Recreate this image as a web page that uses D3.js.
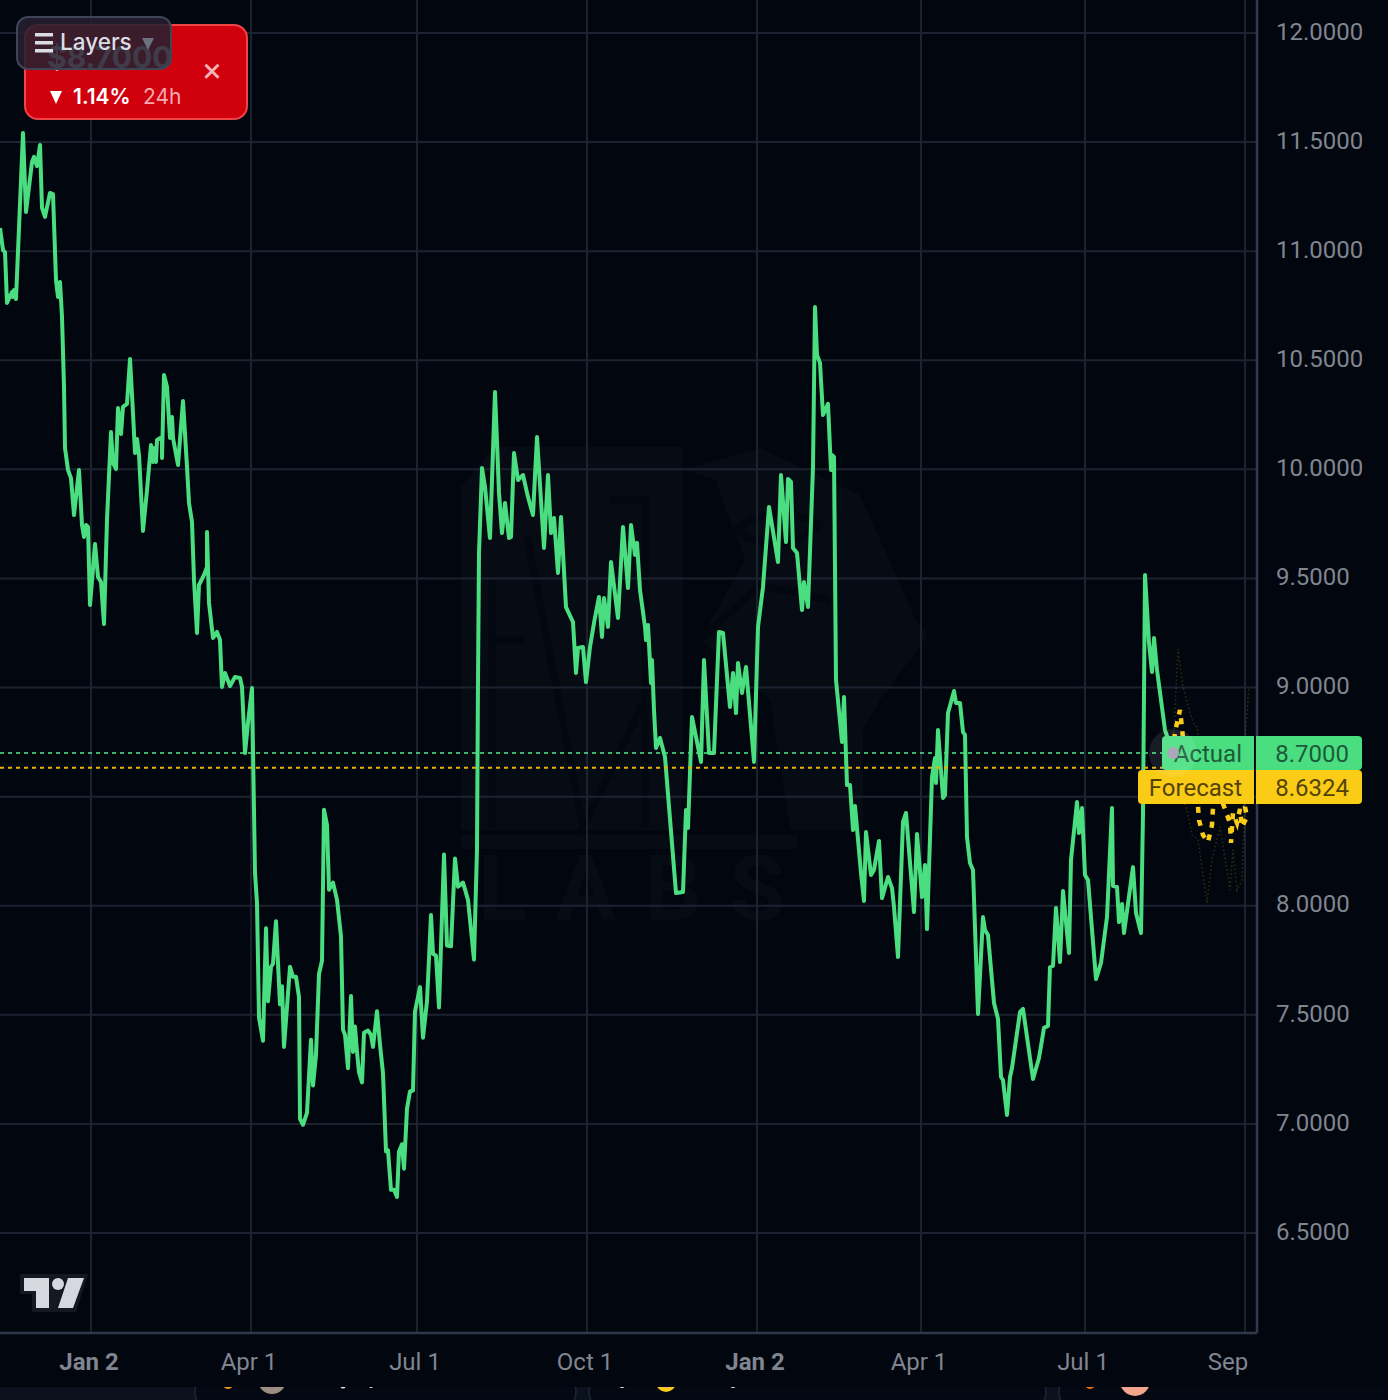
<!DOCTYPE html>
<html>
<head>
<meta charset="utf-8">
<script src="https://cdn.jsdelivr.net/npm/d3@7"></script>
<style>
  html, body { margin: 0; padding: 0; background: #02060f; }
  svg { display: block; }
  text { font-family: Roboto, sans-serif; }
</style>
</head>
<body>
<div id="figure"></div>
<script>
// [bar index, price]
var actualSeries = [
  [0,11.106],[1.5,11.005],[2.5,10.996],[3.5,10.763],[6,10.813],[6.5,10.79],[7,10.822],[8,10.781],[11.5,11.542],[13,11.18],
  [16,11.409],[17,11.432],[18.5,11.39],[20,11.487],[21,11.198],[22.5,11.157],[25,11.267],[26.5,11.262],[28,10.868],[29,10.79],
  [30,10.859],[31,10.698],[32,10.378],[32.5,10.098],[34,9.997],[35.5,9.96],[37,9.791],[39.5,9.997],[41,9.745],[42,9.69],
  [43,9.745],[44,9.736],[45,9.378],[47.5,9.658],[49,9.507],[50.5,9.484],[52,9.291],[53.5,9.768],[55.5,10.171],[56.5,10.029],
  [58,10.002],[59,10.281],[60.5,10.162],[61.5,10.286],[63.5,10.3],[65,10.506],[66.5,10.258],[67.5,10.075],[68.5,10.139],[69.5,10.066],
  [71.5,9.718],[73.5,9.905],[75.5,10.112],[76.5,10.034],[77,10.098],[78,10.034],[78.5,10.135],[81,10.148],[81,10.052],[82,10.433],
  [83.5,10.378],[85,10.144],[86,10.24],[86.5,10.144],[89,10.02],[91.5,10.313],[93.5,10.011],[94.5,9.846],[96,9.759],[97,9.493],
  [98.5,9.25],[99.5,9.47],[102,9.516],[103.5,9.553],[103.5,9.713],[104.5,9.388],[106.5,9.227],[108.5,9.255],[110,9.218],[111,9.003],
  [112.5,9.067],[115,9.007],[117.5,9.048],[120,9.044],[121,9.003],[122.5,8.7],[124,8.838],[126,8.998],[127.5,8.152],[128.5,8.012],
  [129.5,7.487],[131.5,7.381],[133,7.897],[134,7.562],[135.5,7.72],[136.5,7.734],[138,7.929],[139.5,7.641],[140,7.548],[141,7.631],
  [142,7.353],[145,7.72],[146.5,7.674],[148,7.674],[149.5,7.581],[150,7.023],[151.5,6.996],[153.5,7.052],[155.5,7.386],[156.5,7.176],
  [158,7.316],[159.5,7.687],[161,7.748],[162,8.44],[163.5,8.37],[164.5,8.073],[166.5,8.106],[168.5,8.027],[170.5,7.859],[171.5,7.432],
  [172.5,7.408],[174,7.255],[175.5,7.586],[176.5,7.33],[177.5,7.446],[178.5,7.33],[179.5,7.237],[181,7.19],[182,7.418],[184,7.428],
  [185.5,7.408],[186.5,7.353],[188.5,7.516],[190,7.363],[191.5,7.232],[193,6.874],[194,6.879],[195.5,6.698],[197,6.698],[198.5,6.665],
  [199.5,6.874],[201,6.907],[202,6.795],[203.5,7.07],[205,7.149],[206.5,7.153],[207.5,7.516],[210,7.627],[211.5,7.395],[213.5,7.562],
  [215.5,7.957],[216.5,7.78],[218,7.771],[219.5,7.534],[222,8.235],[223.5,7.818],[225.5,7.814],[227.5,8.217],[229,8.087],[231.5,8.106],
  [234,8.027],[237,7.753],[238.5,8.259],[239,9.035],[239.5,9.617],[241,10.006],[242.5,9.919],[245,9.685],[247.5,10.355],[249.5,9.892],
  [251,9.708],[252.5,9.846],[254.5,9.685],[255.5,9.69],[257,10.075],[259,9.951],[261.5,9.974],[264,9.873],[266.5,9.791],[268.5,10.148],
  [272,9.64],[274,9.974],[275.5,9.708],[277,9.777],[279,9.525],[280.5,9.782],[283,9.369],[286.5,9.3],[288,9.067],[289,9.181],
  [291.5,9.186],[293,9.025],[295,9.186],[297,9.296],[299.5,9.415],[301,9.232],[302,9.41],[304,9.278],[305.5,9.575],[309,9.319],
  [311.5,9.736],[314,9.456],[315.5,9.745],[317.5,9.608],[318.5,9.663],[320,9.447],[322.5,9.278],[323,9.218],[324,9.287],[325.5,9.021],
  [326,9.126],[327,8.897],[328,8.723],[330,8.769],[332.5,8.682],[338,8.058],[341.5,8.063],[343,8.439],[344,8.356],[346,8.865],
  [350.5,8.659],[352,9.126],[354.5,8.7],[357,8.7],[359.5,9.255],[361.5,9.25],[365,8.911],[366.5,9.067],[368,8.883],[369,9.113],
  [371,8.975],[373,9.094],[377,8.659],[379,9.278],[381.5,9.461],[384.5,9.828],[389,9.575],[390.5,9.974],[393,9.667],[394,9.956],
  [395.5,9.942],[396.5,9.64],[398.5,9.617],[401,9.355],[402,9.484],[404,9.369],[406.5,10.011],[407.5,10.744],[408.5,10.524],[410,10.488],
  [411.5,10.249],[414,10.3],[415.5,9.997],[416,10.066],[417,10.057],[418,9.035],[421,8.75],[422,8.957],[423.5,8.553],[425,8.553],
  [426.5,8.347],[427.5,8.457],[430.5,8.15],[432,8.022],[433,8.338],[435.5,8.141],[437,8.164],[439.5,8.297],[441,8.035],[444,8.132],
  [446,8.081],[447,7.994],[449,7.765],[451.5,8.384],[453,8.425],[457,7.971],[458.5,8.329],[461,8.04],[462.5,8.187],[463.5,7.893],
  [466,8.59],[467.5,8.677],[468,8.563],[469,8.805],[471.5,8.494],[472.5,8.508],[474,8.883],[477,8.984],[478,8.929],[480,8.929],
  [481.5,8.796],[482.5,8.783],[483.5,8.315],[485,8.196],[486.5,8.164],[489,7.504],[491.5,7.948],[492.5,7.889],[494,7.866],[497,7.554],
  [499,7.481],[500.5,7.215],[501.5,7.201],[503.5,7.041],[505,7.215],[506,7.256],[510,7.513],[511.5,7.527],[516.5,7.206],[519.5,7.302],
  [522,7.44],[524,7.449],[525,7.719],[526.5,7.724],[528,7.99],[530,7.742],[531.5,8.068],[534.5,7.783],[535.5,8.21],[538.5,8.475],
  [539.5,8.333],[541,8.448],[542.5,8.141],[544,8.118],[548,7.664],[550.5,7.738],[553.5,7.948],[556,8.448],[556.5,8.09],[558.5,8.086],
  [559.5,7.925],[561,8.008],[562,7.875],[566.5,8.177],[568,7.967],[570.5,7.875],[571.5,8.425],[572.5,9.516],[574.5,9.204],[576,9.071],
  [577,9.227],[578.5,9.08],[582.5,8.805],[586.5,8.7]
];

var forecastSeries = [
  [586.5,8.7],[587.5,8.796],[590,8.897],[591,8.815],[593,8.622],[596,8.508],[599,8.453],[599.5,8.393],[601.5,8.324],[604,8.292],
  [606,8.37],[606.5,8.448],[609,8.53],[612.5,8.443],[615,8.379],[615.5,8.288],[616.5,8.425],[618.5,8.379],[620,8.443],[621,8.361],
  [623.5,8.407],[622.5,8.453],[625,8.485]
];

var forecastUpper = [
  [586.5,8.7],[589,9.177],[591.5,9.003],[596.5,8.838],[598.5,8.819],[602.5,8.576],[607.5,8.508],[612.5,8.508],[618.5,8.53],[622.5,8.76],[624.5,9.003]
];

var forecastLower = [
  [586.5,8.7],[590,8.53],[593.5,8.439],[596,8.324],[599,8.303],[603.5,8.013],[606,8.21],[610,8.361],[615,8.072],[616.5,8.256],
  [618.5,8.072],[621,8.118],[622.5,8.517],[624.5,8.714]
];

var priceTicks = [12, 11.5, 11, 10.5, 10, 9.5, 9, 8.5, 8, 7.5, 7, 6.5];
var dateTickBars = [45.5, 125.5, 208.5, 293.5, 378.5, 460.5, 542.5, 622.5];
var dateTickLabels = ["Jan 2", "Apr 1", "Jul 1", "Oct 1", "Jan 2", "Apr 1", "Jul 1", "Sep"];
var actualPrice = 8.7;
var forecastPrice = 8.6324;

var width = 1388, height = 1400;
var plotRight = 1257, plotBottom = 1333;
var gridColor = "#1c2330", borderColor = "#2f3a4c", tickColor = "#80858f";
var green = "#4ade80", yellow = "#facc15";

var x = d3.scaleLinear().domain([0, 628.5]).range([0, plotRight]);
var y = d3.scaleLinear().domain([12, 6.5]).range([33, 1233]);

var svg = d3.select("#figure").append("svg")
  .attr("width", width).attr("height", height);

svg.append("rect").attr("width", width).attr("height", height).attr("fill", "#02060f");

// strip of cards cut off by the window edge
svg.append("clipPath").attr("id", "stripClip").append("rect")
  .attr("x", 0).attr("y", 1387).attr("width", width).attr("height", 13);
var strip = svg.append("g").attr("clip-path", "url(#stripClip)");
strip.append("rect").attr("x", 0).attr("y", 1387).attr("width", width).attr("height", 13).attr("fill", "#0b111d");
[[195, 381], [589, 457], [1059, 340]].forEach(function(c){
  strip.append("rect").attr("x", c[0]).attr("y", 1372).attr("width", c[1]).attr("height", 40).attr("rx", 22)
    .attr("fill", "#040812").attr("stroke", "#1c2536").attr("stroke-width", 1.5);
});
[[228, 1384, 5, "#f59e0b"], [272, 1380, 14, "#9a8f80"], [343, 1386, 2.5, "#e5e7eb"], [371, 1386, 2, "#e5e7eb"],
 [622, 1385, 3, "#e5e7eb"], [666, 1382, 10, "#facc15"], [666, 1382, 6, "#e8a0c8"],
 [733, 1385, 3, "#e5e7eb"], [1090, 1384, 5, "#f97316"], [1135, 1381, 15, "#f2a58e"]].forEach(function(c){
  strip.append("circle").attr("cx", c[0]).attr("cy", c[1]).attr("r", c[2]).attr("fill", c[3]);
});

// faint logo behind the chart
var mark = svg.append("g").attr("fill", "#070b14");
[
  "M461 487L494 447H683V830H461Z",
  "M683 470L760 448L860 495L925 640L880 700L846 760L862 830H790L770 700L700 640L745 560L715 480Z",
  "M863 563L885 587L927 633L903 667V640L885 623L863 650V830H830V620Z"
].forEach(function(d){
  mark.append("path").attr("d", d);
});
var cuts = svg.append("g").attr("fill", "none").attr("stroke", "#03070f").attr("stroke-width", 7);
[
  "M492 580V828",
  "M527 535L583 828L643 703",
  "M492 640H525",
  "M610 500H645V828",
  "M700 640L760 585L830 600",
  "M735 530Q775 500 820 525Q775 560 735 530"
].forEach(function(d){
  cuts.append("path").attr("d", d);
});
mark.append("rect").attr("x", 461).attr("y", 835).attr("width", 336).attr("height", 14);
mark.append("text").attr("x", 478).attr("y", 920).attr("font-size", 90)
  .attr("font-weight", 700).attr("letter-spacing", 28).text("LABS");

// axes carry the grid
var yAxis = d3.axisRight(y).tickValues(priceTicks).offset(0)
  .tickFormat(d3.format(".4f")).tickSize(-plotRight).tickPadding(19);
var xAxis = d3.axisBottom(x).tickValues(dateTickBars).offset(0)
  .tickFormat(function(d, i){ return dateTickLabels[i]; })
  .tickSize(-plotBottom).tickSizeOuter(0).tickPadding(20);

var gy = svg.append("g").attr("transform", "translate(" + plotRight + ",0)").call(yAxis);
var gx = svg.append("g").attr("transform", "translate(0," + plotBottom + ")").call(xAxis);
gy.select(".domain").remove();
gx.select(".domain").remove();
svg.selectAll(".tick line").attr("stroke", gridColor).attr("stroke-width", 2);
svg.selectAll(".tick text").attr("fill", tickColor).attr("font-size", 24)
  .style("font-family", "Roboto, sans-serif");
gy.selectAll(".tick text").attr("dy", "0.28em");
gx.selectAll(".tick text").attr("font-weight", function(d, i){
  return dateTickLabels[i] == "Jan 2" ? 700 : 400;
}).attr("dx", -2);
// last date label is pushed left of its grid line
gx.selectAll(".tick text").filter(function(d, i){ return i == dateTickLabels.length - 1; })
  .attr("dx", -17);

svg.append("line").attr("x1", 0).attr("x2", plotRight).attr("y1", plotBottom).attr("y2", plotBottom)
  .attr("stroke", borderColor).attr("stroke-width", 2.5);
svg.append("line").attr("x1", plotRight).attr("x2", plotRight).attr("y1", 0).attr("y2", plotBottom)
  .attr("stroke", borderColor).attr("stroke-width", 2.5);

var line = d3.line().x(function(d){ return x(d[0]); }).y(function(d){ return y(d[1]); });

// forecast band and forecast
svg.append("path").datum(forecastUpper).attr("d", line).attr("fill", "none")
  .attr("stroke", yellow).attr("stroke-opacity", 0.2).attr("stroke-width", 1.5).attr("stroke-dasharray", "1.5,2.5");
svg.append("path").datum(forecastLower).attr("d", line).attr("fill", "none")
  .attr("stroke", yellow).attr("stroke-opacity", 0.2).attr("stroke-width", 1.5).attr("stroke-dasharray", "1.5,2.5");
svg.append("path").datum(forecastSeries).attr("d", line).attr("fill", "none")
  .attr("stroke", yellow).attr("stroke-width", 4.5).attr("stroke-dasharray", "6,7");

svg.append("path").datum(actualSeries).attr("d", line).attr("fill", "none")
  .attr("stroke", green).attr("stroke-width", 4).attr("stroke-linejoin", "round");

// price lines
svg.append("line").attr("x1", 0).attr("x2", plotRight).attr("y1", y(actualPrice)).attr("y2", y(actualPrice))
  .attr("stroke", green).attr("stroke-opacity", 0.8).attr("stroke-width", 2).attr("stroke-dasharray", "4,4");
svg.append("line").attr("x1", 0).attr("x2", plotRight).attr("y1", y(forecastPrice)).attr("y2", y(forecastPrice))
  .attr("stroke", "#eab308").attr("stroke-width", 2).attr("stroke-dasharray", "4,4");

// price labels, left tag and right tag
function priceLabel(name, value, color, textColor, left, top){
  var g = svg.append("g");
  g.append("path").attr("fill", color)
    .attr("d", "M" + (left + 4) + " " + top + "H1254V" + (top + 34) + "H" + (left + 4) + "Q" + left + " " + (top + 34) + " " + left + " " + (top + 30) + "V" + (top + 4) + "Q" + left + " " + top + " " + (left + 4) + " " + top + "Z");
  g.append("path").attr("fill", color)
    .attr("d", "M1256 " + top + "H1358Q1362 " + top + " 1362 " + (top + 4) + "V" + (top + 30) + "Q1362 " + (top + 34) + " 1358 " + (top + 34) + "H1256Z");
  g.append("text").attr("x", 1242).attr("y", top + 26).attr("text-anchor", "end")
    .attr("font-size", 24).attr("fill", textColor).text(name);
  g.append("text").attr("x", 1349).attr("y", top + 26).attr("text-anchor", "end")
    .attr("font-size", 24).attr("fill", textColor).text(d3.format(".4f")(value));
}
priceLabel("Actual", actualPrice, green, "#1d5a3a", 1162, 736);
priceLabel("Forecast", forecastPrice, "#facc15", "#53430a", 1138, 770);

svg.append("circle").attr("cx", x(586.5)).attr("cy", y(actualPrice)).attr("r", 24)
  .attr("fill", "#ffffff").attr("fill-opacity", 0.09);
svg.append("circle").attr("cx", x(586.5)).attr("cy", y(actualPrice)).attr("r", 6)
  .attr("fill", "#a9a9b8");

// tradingview logo
svg.append("path").attr("fill", "#141823")
  .attr("d", "M20 1274H88L76 1312H32V1294H20Z");
svg.append("path").attr("fill", "#d6d8e0")
  .attr("d", "M24 1278H49V1308H36V1291H24ZM68 1278H84L73 1308H58Z");
svg.append("circle").attr("cx", 58).attr("cy", 1284).attr("r", 6).attr("fill", "#d6d8e0");

// red price card
var card = svg.append("g");
card.append("rect").attr("x", 25).attr("y", 25).attr("width", 222).attr("height", 94).attr("rx", 13)
  .attr("fill", "#d0000d").attr("stroke", "#ef4444").attr("stroke-width", 2);
card.append("text").attr("x", 47).attr("y", 68).attr("font-size", 30).attr("font-weight", 700)
  .attr("fill", "#ffffff").style("font-family", "Inter").text("$8.7000");
card.append("text").attr("x", 212).attr("y", 82).attr("text-anchor", "middle").attr("font-size", 34)
  .attr("fill", "#f5b3b6").text("×");
card.append("path").attr("d", "M50 91H62L56 104Z").attr("fill", "#ffffff");
card.append("text").attr("x", 73).attr("y", 104).attr("font-size", 21).attr("font-weight", 600)
  .attr("fill", "#ffffff").style("font-family", "Inter").text("1.14%");
card.append("text").attr("x", 143).attr("y", 104).attr("font-size", 21)
  .attr("fill", "#f5a9ad").style("font-family", "Inter").text("24h");

// layers button, sits over the card
var layers = svg.append("g");
layers.append("rect").attr("x", 17).attr("y", 17).attr("width", 154).attr("height", 52).attr("rx", 11)
  .attr("fill", "#262030").attr("fill-opacity", 0.88).attr("stroke", "#3c4558").attr("stroke-width", 2);
[33, 41, 49].forEach(function(top){
  layers.append("rect").attr("x", 35).attr("y", top).attr("width", 18).attr("height", 3.5).attr("fill", "#dcdde3");
});
layers.append("text").attr("x", 60).attr("y", 50).attr("font-size", 22.5).attr("font-weight", 500)
  .attr("fill", "#dcdde3").style("font-family", "Inter").text("Layers");
layers.append("path").attr("d", "M142 38H154L148 50Z").attr("fill", "#6b7280");
</script>
</body>
</html>
